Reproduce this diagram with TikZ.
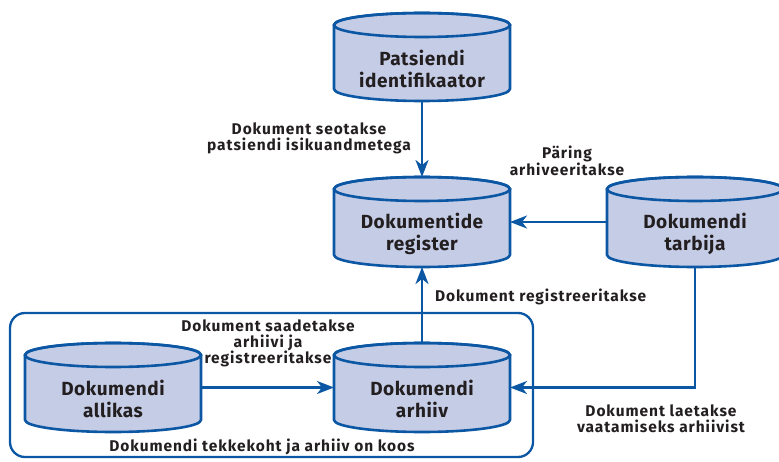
\documentclass[tikz,border=0pt]{standalone}
\usepackage{fontspec}
\setmainfont{Fira Sans}[LetterSpace=3]
\newfontfamily\capfont{Fira Sans}[LetterSpace=6]
\usetikzlibrary{arrows.meta}

\definecolor{lineblue}{HTML}{0B57A4}
\definecolor{cylfill}{HTML}{C5CCE6}
\definecolor{ink}{HTML}{231F20}

\tikzset{
  cylbody/.style={fill=cylfill, draw=lineblue, line width=2.6pt, line join=round},
  cylrim/.style={draw=lineblue, line width=2.6pt},
  cylanchor/.style={inner sep=0pt, outer sep=0pt, minimum width=176pt},
  cyltext/.style={font=\fontsize{19}{22}\selectfont\bfseries, text=ink, align=center, inner sep=0pt},
  caption/.style={font=\capfont\fontsize{15.5}{16}\selectfont\bfseries, text=ink, align=center, inner sep=0pt},
  flow/.style={draw=lineblue, line width=2.3pt, -{Stealth[length=17pt,width=13pt,inset=5pt]}},
  sitebox/.style={draw=lineblue, line width=2.3pt, rounded corners=15pt},
}

% database cylinder: name, centre x, centre y, height, text
\newcommand\dbcylinder[5]{%
  \path[cylbody] ({#2-88},{#3+#4/2-12}) -- ({#2-88},{#3-#4/2+12})
    arc[start angle=180,end angle=360,x radius=88pt,y radius=12pt]
    -- ({#2+88},{#3+#4/2-12})
    arc[start angle=0,end angle=180,x radius=88pt,y radius=12pt] -- cycle;
  \draw[cylrim] (#2,{#3+#4/2-12}) ellipse[x radius=88pt,y radius=12pt];
  \node[cylanchor, minimum height=#4pt] (#1) at (#2,#3) {};
  \node[cyltext] (#1-text) at (#2,{#3-11.5}) {#5};
}

\begin{document}
\begin{tikzpicture}[x=1pt,y=1pt]
  \useasboundingbox (0,0) rectangle (779,461);

  % site where the document is created and archived
  \draw[sitebox] (10,4) rectangle (533,148);

  \dbcylinder{pat}{422}{404}{88}{Patsiendi\\identifikaator}
  \dbcylinder{reg}{422}{239}{90}{Dokumentide\\register}
  \dbcylinder{tarb}{695}{239}{90}{Dokumendi\\tarbija}
  \dbcylinder{all}{113}{73.5}{89}{Dokumendi\\allikas}
  \dbcylinder{arh}{422}{73.5}{89}{Dokumendi\\arhiiv}

  \draw[flow] (pat) -- (reg);
  \draw[flow] (tarb) -- (reg);
  \draw[flow] (arh) -- (reg);
  \draw[flow] (all) -- (arh);
  \draw[flow] (tarb.south) |- (arh.east);

  \node[caption] (c1) at (309,323) {Dokument seotakse\\patsiendi isikuandmetega};
  \node[caption] (c2) at (567,300) {Päring\\arhiveeritakse};
  \node[caption, anchor=west] (c3) at (435,164) {Dokument registreeritakse};
  \node[caption] (c4) at (268,118) {Dokument saadetakse\\arhiivi ja\\registreeritakse};
  \node[caption] (c5) at (262,14) {Dokumendi tekkekoht ja arhiiv on koos};
  \node[caption] (c6) at (661,42) {Dokument laetakse\\vaatamiseks arhiivist};
\end{tikzpicture}
\end{document}
